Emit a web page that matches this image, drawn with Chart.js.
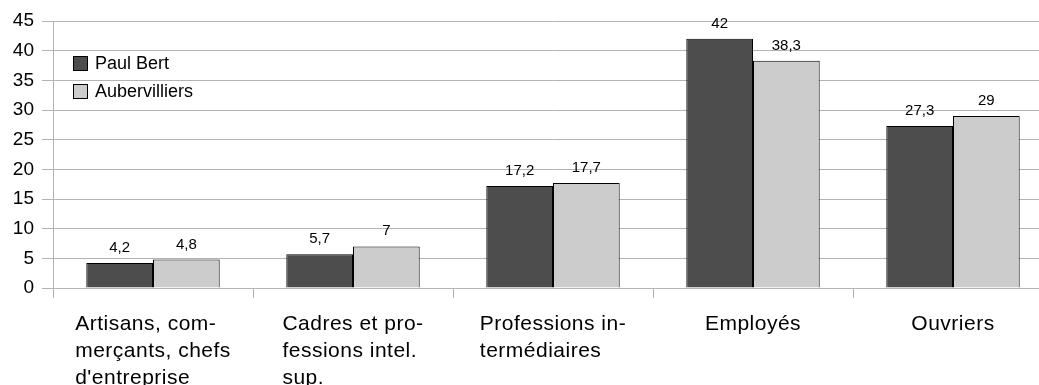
<!DOCTYPE html>
<html>
<head>
<meta charset="utf-8">
<script src="https://cdn.jsdelivr.net/npm/chart.js@4/dist/chart.umd.min.js"></script>
<style>
  html, body { margin: 0; padding: 0; background: #fff; overflow: hidden; }
  #wrap { width: 1039px; height: 385px; overflow: hidden; }
</style>
</head>
<body>
<div id="wrap">
  <canvas id="csp" width="1070" height="385"></canvas>
</div>
<script>
const categories = [
  ['Artisans, com-', 'merçants, chefs', "d'entreprise"],
  ['Cadres et pro-', 'fessions intel.', 'sup.'],
  ['Professions in-', 'termédiaires'],
  ['Employés'],
  ['Ouvriers']
];
const seriesNames = ['Paul Bert', 'Aubervilliers'];
const paulBert = [4.2, 5.7, 17.2, 42, 27.3];
const aubervilliers = [4.8, 7, 17.7, 38.3, 29];
const yTicks = [0, 5, 10, 15, 20, 25, 30, 35, 40, 45];

const FONT = "'Liberation Sans', Arial, sans-serif";
const GRID = '#b3b3b3';
const barColors = ['#4d4d4d', '#cccccc'];

const fmt = (v) => v.toString().replace('.', ',');

// value above each bar
const valueLabels = {
  id: 'valueLabels',
  afterDatasetsDraw(chart) {
    const ctx = chart.ctx;
    ctx.save();
    ctx.font = '15px ' + FONT;
    ctx.fillStyle = '#000';
    ctx.textAlign = 'center';
    ctx.textBaseline = 'alphabetic';
    chart.data.datasets.forEach((ds, i) => {
      chart.getDatasetMeta(i).data.forEach((bar, j) => {
        ctx.fillText(fmt(ds.data[j]), bar.x, bar.y - 11);
      });
    });
    ctx.restore();
  }
};

// category names: block centred under the category, lines left aligned
const categoryLabels = {
  id: 'categoryLabels',
  afterDraw(chart) {
    const ctx = chart.ctx;
    const xs = chart.scales.x;
    ctx.save();
    ctx.font = '21px ' + FONT;
    ctx.letterSpacing = '0.5px';
    ctx.fillStyle = '#000';
    ctx.textAlign = 'left';
    ctx.textBaseline = 'alphabetic';
    categories.forEach((lines, i) => {
      const w = Math.max(...lines.map(l => ctx.measureText(l).width));
      const left = xs.getPixelForTick(i) - w / 2;
      lines.forEach((l, k) => {
        ctx.fillText(l, left, chart.chartArea.bottom + 42 + k * 27);
      });
    });
    ctx.restore();
  }
};

// legend boxes inside the plot, top left
const innerLegend = {
  id: 'innerLegend',
  afterDraw(chart) {
    const ctx = chart.ctx;
    const a = chart.chartArea;
    ctx.save();
    ctx.font = '18px ' + FONT;
    ctx.textBaseline = 'middle';
    ctx.textAlign = 'left';
    chart.data.datasets.forEach((ds, i) => {
      const x = a.left + 20.5;
      const y = a.top + 35.5 + i * 28;
      ctx.fillStyle = ds.backgroundColor;
      ctx.fillRect(x, y, 14, 14);
      ctx.strokeStyle = '#000';
      ctx.lineWidth = 1;
      ctx.strokeRect(x, y, 14, 14);
      ctx.fillStyle = '#000';
      ctx.fillText(ds.label, a.left + 42, y + 7.5);
    });
    ctx.restore();
  }
};

new Chart(document.getElementById('csp'), {
  type: 'bar',
  data: {
    labels: categories,
    datasets: [
      { label: seriesNames[0], data: paulBert, backgroundColor: barColors[0] },
      { label: seriesNames[1], data: aubervilliers, backgroundColor: barColors[1] }
    ]
  },
  options: {
    responsive: false,
    animation: false,
    layout: { padding: { top: 21, right: 17, left: 0, bottom: 0 } },
    datasets: {
      bar: {
        borderColor: '#000',
        borderWidth: 1,
        categoryPercentage: 0.667,
        barPercentage: 1
      }
    },
    plugins: {
      legend: { display: false },
      tooltip: { enabled: false }
    },
    scales: {
      x: {
        offset: true,
        grid: {
          offset: true,
          drawOnChartArea: false,
          color: GRID,
          tickLength: 10
        },
        border: { color: GRID },
        ticks: { display: false },
        afterFit(scale) { scale.height = 97; }
      },
      y: {
        min: 0,
        max: 45,
        afterBuildTicks(scale) { scale.ticks = yTicks.map(v => ({ value: v })); },
        grid: { color: GRID, tickLength: 11 },
        border: { color: GRID },
        ticks: {
          padding: 8,
          color: '#000',
          font: { family: FONT, size: 19 }
        },
        afterFit(scale) { scale.width = 53; }
      }
    }
  },
  plugins: [valueLabels, categoryLabels, innerLegend]
});
</script>
</body>
</html>
